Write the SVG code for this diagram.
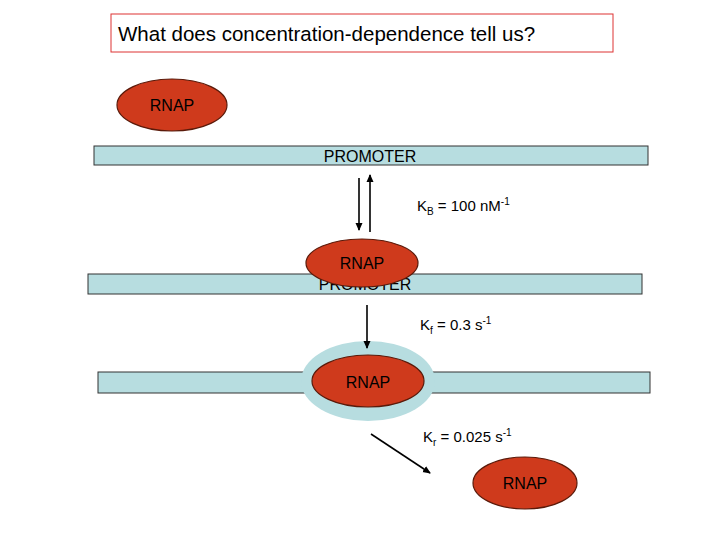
<svg xmlns="http://www.w3.org/2000/svg" width="720" height="540" viewBox="0 0 720 540">
<style>
text{font-family:"Liberation Sans",Arial,sans-serif;fill:#000}
.bar{fill:#b7dde0;stroke:#333;stroke-width:1}
.rnap{fill:#cf3a1c;stroke:#5a1a0a;stroke-width:1.2}
.lbl{font-size:16px}
.c line{stroke:#000;stroke-width:1.6}
</style>
<defs>
<marker id="ah" markerWidth="8" markerHeight="8" refX="7" refY="4" orient="auto" markerUnits="userSpaceOnUse">
<path d="M0,0.5 L8,4 L0,7.5 z" fill="#000"/>
</marker>
</defs>
<rect width="720" height="540" fill="#fff"/>
<g id="title">
<rect x="111" y="14" width="502" height="38" fill="#fff" stroke="#d33" stroke-width="1"/>
<text x="118" y="41" font-size="20.5">What does concentration-dependence tell us?</text>
</g>
<g id="rnap1">
<ellipse class="rnap" cx="172" cy="105" rx="55" ry="26"/>
<text class="lbl" x="172" y="111" text-anchor="middle">RNAP</text>
</g>
<g id="promoter1">
<rect class="bar" x="94" y="146" width="554" height="19"/>
<text class="lbl" x="370" y="162" text-anchor="middle">PROMOTER</text>
</g>
<g id="promoter2">
<rect class="bar" x="88" y="274" width="554" height="20"/>
<text class="lbl" x="365" y="290" text-anchor="middle">PROMOTER</text>
</g>
<g id="rnap2">
<ellipse class="rnap" cx="362" cy="263" rx="56" ry="24"/>
<text class="lbl" x="362" y="269" text-anchor="middle">RNAP</text>
</g>
<g id="promoter3">
<rect class="bar" x="98" y="372" width="552" height="21"/>
<ellipse cx="368" cy="381" rx="67" ry="40" fill="#b7dde0"/>
<ellipse class="rnap" cx="368" cy="381" rx="56" ry="26"/>
<text class="lbl" x="368" y="388" text-anchor="middle">RNAP</text>
</g>
<g id="rnap4">
<ellipse class="rnap" cx="525" cy="483" rx="52" ry="26"/>
<text class="lbl" x="525" y="489" text-anchor="middle">RNAP</text>
</g>
<g class="c" id="connectors">
<line x1="359" y1="178" x2="359" y2="230" marker-end="url(#ah)"/>
<line x1="370" y1="232" x2="370" y2="175" marker-end="url(#ah)"/>
<line x1="367" y1="305" x2="367" y2="348" marker-end="url(#ah)"/>
<line x1="371" y1="434" x2="430" y2="473" marker-end="url(#ah)"/>
</g>
<g id="labels" class="lbl">
<text x="417" y="211" font-size="15">K<tspan font-size="10" dy="4">B</tspan><tspan dy="-4"> = 100 nM</tspan><tspan font-size="10" dy="-6">-1</tspan></text>
<text x="420" y="330" font-size="15">K<tspan font-size="10" dy="4">f</tspan><tspan dy="-4"> = 0.3 s</tspan><tspan font-size="10" dy="-6">-1</tspan></text>
<text x="423" y="442" font-size="15">K<tspan font-size="10" dy="4">r</tspan><tspan dy="-4"> = 0.025 s</tspan><tspan font-size="10" dy="-6">-1</tspan></text>
</g>
</svg>
